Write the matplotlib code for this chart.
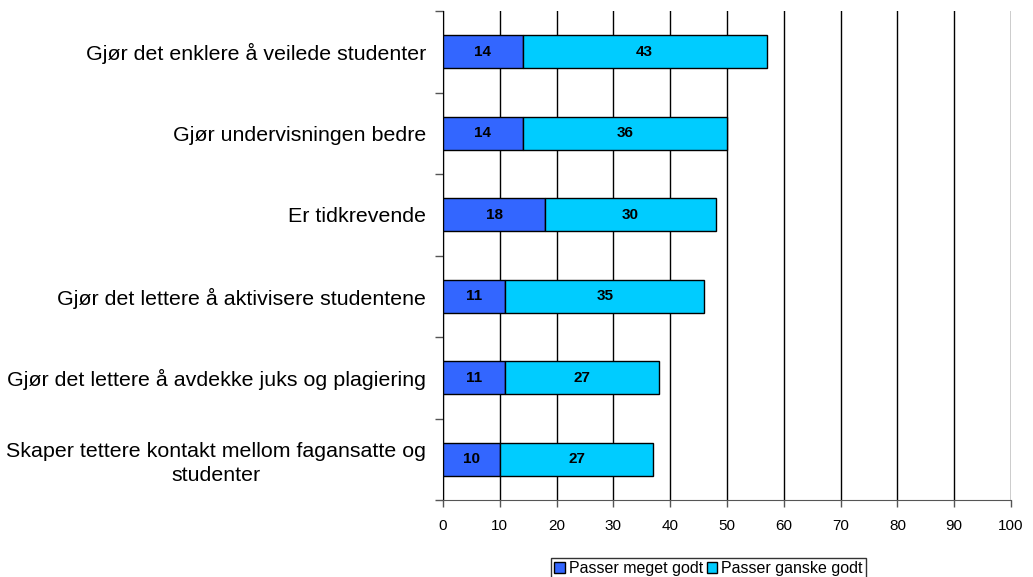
import numpy as np
import matplotlib.pyplot as plt
from matplotlib.ticker import FixedLocator

plt.rcParams['font.family'] = ['Liberation Sans', 'DejaVu Sans']

# Utsagn (øverst først) og andel svar
utsagn = [
    'Gjør det enklere å veilede studenter',
    'Gjør undervisningen bedre',
    'Er tidkrevende',
    'Gjør det lettere å aktivisere studentene',
    'Gjør det lettere å avdekke juks og plagiering',
    'Skaper tettere kontakt mellom fagansatte og\nstudenter',
]
meget_godt = [14, 14, 18, 11, 11, 10]
ganske_godt = [43, 36, 30, 35, 27, 27]
x_ticks = list(range(0, 101, 10))

COL_MEGET = '#3366FF'
COL_GANSKE = '#00CCFF'

fig = plt.figure(figsize=(10.33, 5.77), dpi=100)
ax = fig.add_axes([443 / 1033, 1 - 500 / 577, 568 / 1033, 489 / 577])

y = np.arange(len(utsagn))
bar_h = 0.41
b1 = ax.barh(y, meget_godt, height=bar_h, color=COL_MEGET, edgecolor='black',
             linewidth=1, label='Passer meget godt', zorder=3)
b2 = ax.barh(y, ganske_godt, left=meget_godt, height=bar_h, color=COL_GANSKE,
             edgecolor='black', linewidth=1, label='Passer ganske godt', zorder=3)

for bars in (b1, b2):
    for rect in bars:
        w = rect.get_width()
        ax.text(rect.get_x() + w / 2, rect.get_y() + rect.get_height() / 2,
                f'{w:.0f}', ha='center', va='center', fontsize=11,
                fontweight='bold', zorder=4)

ax.set_ylim(len(utsagn) - 0.5, -0.5)
ax.set_xlim(0, 100)
ax.set_xticks(x_ticks)
ax.tick_params(axis='x', labelsize=11, length=5, width=1, direction='out',
               color='#555555', pad=9)

# kategorigrenser som hovedmerker, etiketter midt i hver kategori
ax.yaxis.set_major_locator(FixedLocator(np.arange(-0.5, len(utsagn), 1)))
ax.yaxis.set_minor_locator(FixedLocator(y))
ax.set_yticklabels([], minor=False)
ax.set_yticklabels(utsagn, minor=True)
ax.tick_params(axis='y', which='major', length=6, width=1, color='#555555',
               direction='out')
ax.tick_params(axis='y', which='minor', length=0, labelsize=15.4, pad=12)
for lbl in ax.get_yticklabels(minor=True):
    lbl.set_multialignment('center')
    lbl.set_linespacing(1.3)

ax.grid(axis='x', color='black', linewidth=1, zorder=0)
ax.set_axisbelow(True)
for s in ('top', 'right'):
    ax.spines[s].set_visible(False)
ax.spines['left'].set_color('black')
ax.spines['bottom'].set_color('#555555')

leg = fig.legend(handles=[b1, b2], loc='upper center',
                 bbox_to_anchor=(708.5 / 1033, 1 - 558 / 577), ncol=2,
                 fontsize=11.5, frameon=True, fancybox=False, edgecolor='black',
                 handlelength=0.65, handleheight=0.65, handletextpad=0.25,
                 columnspacing=0.25, borderpad=0.2, borderaxespad=0)
leg.get_frame().set_linewidth(1)

fig.savefig('out.png', dpi=100)
